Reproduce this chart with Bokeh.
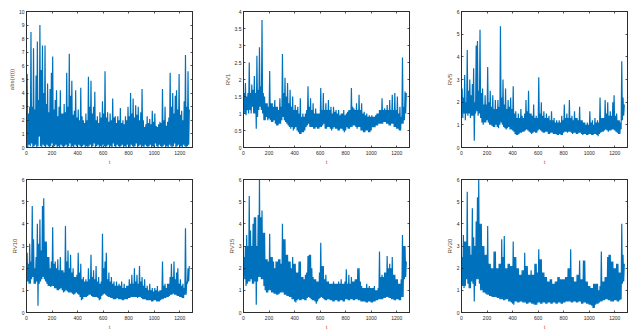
from bokeh.plotting import figure
from bokeh.models import Range1d, LinearAxis, FixedTicker
from bokeh.layouts import row, column
from bokeh.embed import file_html
from bokeh.resources import INLINE

# Each series is read off the picture as a min/max envelope per 10-step bin of t
# (the original series are ~1270 daily points, far denser than a pixel).
T_LO = list(range(0, 1280, 10))   # t at which the bin minimum is drawn
T_HI = list(range(5, 1285, 10))   # t at which the bin maximum is drawn

ABS_R_UP = [5.4, 2.5, 3.0, 8.5, 3.0, 7.3, 2.8, 5.3, 7.8, 3.5, 9.0, 5.7, 7.5, 4.0, 7.5, 3.2,
            4.7, 2.6, 4.3, 5.5, 6.7, 2.8, 3.5, 4.2, 2.3, 3.0, 4.2, 2.5, 2.5, 3.2, 2.6, 5.5,
            3.0, 6.9, 3.8, 4.9, 2.4, 2.7, 4.2, 2.2, 2.8, 2.0, 4.4, 2.3, 2.0, 1.8, 2.5, 2.0,
            5.2, 3.0, 4.9, 2.5, 3.0, 4.1, 2.0, 2.3, 1.8, 2.6, 2.2, 3.4, 2.5, 5.6, 2.2, 2.6,
            1.9, 2.5, 2.0, 3.6, 2.2, 2.3, 1.8, 2.3, 2.0, 2.9, 1.8, 2.0, 1.7, 2.3, 2.0, 3.0,
            2.3, 4.0, 2.5, 3.6, 2.2, 3.1, 2.4, 3.0, 2.0, 2.6, 4.3, 2.0, 1.5, 1.7, 2.3, 1.8,
            2.1, 1.7, 2.7, 1.9, 2.5, 1.6, 1.5, 1.7, 1.9, 1.8, 4.3, 2.0, 3.0, 1.6, 1.9, 2.2,
            5.5, 3.0, 4.0, 2.5, 3.8, 4.2, 2.8, 5.4, 2.4, 2.7, 2.0, 3.4, 6.8, 3.0, 5.6, 2.8]
ABS_R_LO = [0.1, 0.0, 0.2, 0.1, 0.3, 0.0, 0.1, 0.2, 0.0, 0.1, 0.8, 0.1, 0.0, 0.2, 0.1, 0.0,
            0.2, 0.1, 0.0, 0.1, 0.3, 0.0, 0.1, 0.2, 0.0, 0.1, 0.0, 0.2, 0.1, 0.0, 0.1, 0.2,
            0.0, 0.1, 0.3, 0.0, 0.1, 0.0, 0.2, 0.1, 0.0, 0.2, 0.1, 0.0, 0.1, 0.2, 0.0, 0.1,
            0.0, 0.1, 0.2, 0.0, 0.1, 0.3, 0.0, 0.1, 0.2, 0.0, 0.1, 0.0, 0.2, 0.1, 0.0, 0.1,
            0.2, 0.0, 0.1, 0.0, 0.3, 0.1, 0.0, 0.2, 0.1, 0.0, 0.1, 0.2, 0.0, 0.1, 0.0, 0.2,
            0.1, 0.0, 0.2, 0.1, 0.0, 0.1, 0.3, 0.0, 0.1, 0.2, 0.0, 0.1, 0.0, 0.2, 0.1, 0.0,
            0.1, 0.2, 0.0, 0.1, 0.0, 0.3, 0.1, 0.0, 0.2, 0.1, 0.0, 0.1, 0.2, 0.0, 0.1, 0.0,
            0.2, 0.1, 0.0, 0.1, 0.3, 0.0, 0.1, 0.2, 0.0, 0.1, 0.0, 0.2, 0.1, 0.0, 0.1, 0.2]

RV1_UP = [1.6, 1.9, 1.5, 1.6, 2.5, 1.6, 1.85, 1.7, 2.1, 1.6, 2.7, 1.7, 2.95, 1.8, 3.75, 1.6,
          1.5, 1.3, 1.3, 1.2, 2.25, 1.3, 1.3, 1.2, 1.4, 1.2, 1.2, 1.1, 1.45, 1.2, 2.75, 1.6,
          2.05, 1.5, 1.9, 1.3, 1.7, 1.2, 1.5, 1.1, 1.25, 1.1, 1.2, 1.0, 1.45, 0.9, 1.0, 0.9,
          1.0, 1.1, 1.8, 1.2, 1.45, 1.1, 1.3, 1.0, 1.15, 1.0, 1.0, 1.0, 1.75, 1.1, 1.6, 1.1,
          1.3, 1.1, 1.4, 1.1, 1.2, 1.0, 1.2, 1.05, 1.1, 1.0, 1.1, 0.95, 1.0, 1.0, 1.1, 0.95,
          1.0, 1.05, 1.1, 1.1, 1.75, 1.2, 1.15, 1.1, 1.3, 1.1, 1.55, 1.1, 1.3, 1.0, 1.05, 0.95,
          1.0, 0.9, 0.95, 0.9, 0.95, 0.9, 0.9, 0.95, 1.0, 1.0, 1.1, 1.1, 1.45, 1.1, 1.15, 1.1,
          1.25, 1.1, 1.4, 1.1, 1.55, 1.1, 1.6, 1.1, 1.5, 1.0, 1.2, 0.9, 2.65, 1.2, 1.65, 1.6]
RV1_LO = [1.1, 1.0, 0.95, 1.1, 1.0, 1.1, 1.0, 1.2, 1.0, 1.0, 0.55, 0.9, 1.1, 1.2, 1.1, 1.0,
          0.8, 0.8, 0.9, 0.8, 0.85, 0.8, 0.75, 0.75, 0.8, 0.7, 0.65, 0.65, 0.7, 0.7, 0.8, 0.9,
          0.8, 0.75, 0.7, 0.65, 0.6, 0.55, 0.6, 0.5, 0.55, 0.6, 0.5, 0.45, 0.4, 0.4, 0.45, 0.45,
          0.5, 0.6, 0.65, 0.7, 0.6, 0.6, 0.6, 0.55, 0.55, 0.6, 0.55, 0.55, 0.6, 0.6, 0.65, 0.7,
          0.55, 0.55, 0.6, 0.6, 0.55, 0.5, 0.55, 0.6, 0.55, 0.55, 0.5, 0.5, 0.55, 0.55, 0.5, 0.45,
          0.5, 0.6, 0.55, 0.55, 0.6, 0.6, 0.65, 0.65, 0.6, 0.55, 0.6, 0.6, 0.5, 0.5, 0.45, 0.45,
          0.5, 0.5, 0.45, 0.45, 0.5, 0.6, 0.6, 0.6, 0.65, 0.65, 0.7, 0.7, 0.7, 0.7, 0.75, 0.75,
          0.7, 0.7, 0.65, 0.65, 0.7, 0.7, 0.6, 0.6, 0.55, 0.55, 0.5, 0.5, 0.7, 0.7, 0.8, 1.0]

RV5_UP = [2.6, 2.2, 3.2, 2.0, 4.3, 2.5, 3.0, 2.3, 2.8, 3.5, 2.0, 4.5, 4.7, 2.5, 5.2, 2.4,
          2.6, 1.9, 2.3, 1.9, 3.55, 2.0, 2.5, 1.8, 2.3, 1.7, 2.1, 1.7, 2.1, 1.8, 5.35, 2.2,
          3.0, 1.9, 2.6, 1.7, 2.1, 1.8, 2.2, 1.7, 2.7, 1.5, 1.6, 1.3, 1.5, 1.3, 1.7, 1.4,
          1.3, 1.5, 2.1, 1.6, 2.5, 1.5, 1.5, 1.4, 1.9, 1.3, 1.4, 1.3, 3.1, 1.5, 2.0, 1.4,
          1.6, 1.3, 1.5, 1.3, 1.4, 1.2, 1.6, 1.2, 1.3, 1.1, 1.2, 1.1, 1.2, 1.1, 1.4, 1.2,
          1.9, 1.3, 1.5, 1.3, 2.1, 1.3, 1.4, 1.2, 1.6, 1.3, 1.3, 1.2, 1.8, 1.2, 1.2, 1.1,
          1.1, 1.0, 1.1, 1.0, 1.6, 1.1, 1.2, 1.0, 1.3, 1.1, 1.2, 1.1, 2.2, 1.3, 1.3, 1.3,
          2.1, 1.5, 2.0, 1.4, 1.6, 1.4, 2.0, 2.3, 1.4, 1.5, 1.2, 1.2, 1.1, 3.8, 2.2, 1.9]
RV5_LO = [1.6, 1.3, 1.5, 1.2, 1.5, 1.4, 1.5, 1.3, 1.4, 1.4, 0.3, 1.5, 1.6, 1.4, 1.5, 1.3,
          1.1, 1.0, 1.1, 1.1, 1.2, 1.1, 1.0, 1.0, 0.95, 0.9, 0.9, 1.0, 0.9, 0.85, 1.0, 1.1,
          1.0, 0.9, 0.85, 0.8, 0.85, 0.9, 0.8, 0.8, 0.75, 0.7, 0.6, 0.55, 0.55, 0.6, 0.65, 0.65,
          0.7, 0.7, 0.75, 0.8, 0.75, 0.7, 0.65, 0.6, 0.65, 0.7, 0.65, 0.65, 0.75, 0.8, 0.75, 0.7,
          0.65, 0.65, 0.7, 0.7, 0.6, 0.6, 0.65, 0.65, 0.6, 0.6, 0.6, 0.55, 0.55, 0.6, 0.55, 0.55,
          0.65, 0.7, 0.7, 0.65, 0.7, 0.7, 0.65, 0.6, 0.65, 0.65, 0.6, 0.6, 0.65, 0.65, 0.6, 0.55,
          0.6, 0.6, 0.55, 0.55, 0.6, 0.6, 0.55, 0.55, 0.6, 0.6, 0.55, 0.5, 0.6, 0.65, 0.7, 0.7,
          0.75, 0.8, 0.75, 0.7, 0.75, 0.75, 0.8, 0.8, 0.75, 0.7, 0.65, 0.6, 0.6, 0.8, 1.2, 1.4]

RV10_UP = [2.7, 2.2, 3.1, 2.3, 4.8, 3.3, 2.0, 2.5, 4.0, 3.1, 4.2, 2.8, 4.8, 5.15, 3.2, 3.2,
           2.5, 2.5, 2.0, 2.3, 3.85, 2.2, 2.3, 2.0, 2.4, 1.9, 2.5, 1.9, 1.9, 1.8, 3.9, 2.3,
           2.8, 2.0, 2.6, 1.8, 2.0, 1.6, 1.6, 1.7, 2.7, 1.8, 2.2, 1.5, 1.6, 1.4, 1.5, 1.4,
           2.0, 1.5, 2.6, 1.6, 1.9, 1.5, 2.1, 1.4, 1.6, 1.3, 1.4, 3.55, 2.0, 2.3, 2.7, 1.5,
           1.8, 1.4, 1.6, 1.3, 1.4, 1.2, 1.4, 1.2, 1.3, 1.2, 1.4, 1.1, 1.3, 1.1, 1.2, 1.2,
           1.5, 1.3, 1.7, 1.3, 2.0, 1.4, 1.7, 1.3, 2.1, 1.4, 1.6, 1.2, 1.5, 1.1, 1.2, 1.0,
           1.3, 1.0, 1.1, 0.95, 1.1, 1.0, 1.2, 0.95, 1.0, 1.0, 2.3, 1.2, 1.3, 1.1, 1.3, 1.3,
           1.6, 2.2, 1.6, 2.3, 1.5, 1.8, 2.0, 1.3, 1.5, 1.2, 1.3, 1.1, 3.8, 1.4, 2.0, 2.1]
RV10_LO = [1.4, 1.4, 1.3, 1.3, 1.5, 1.6, 1.3, 1.3, 1.4, 0.3, 1.3, 1.4, 1.5, 1.6, 1.5, 1.4,
           1.3, 1.2, 1.2, 1.15, 1.2, 1.2, 1.1, 1.1, 1.0, 1.0, 1.05, 1.1, 1.0, 0.9, 0.95, 1.0,
           0.95, 0.9, 0.9, 0.9, 0.85, 0.8, 0.85, 0.9, 0.85, 0.8, 0.7, 0.55, 0.6, 0.7, 0.7, 0.7,
           0.75, 0.8, 0.8, 0.75, 0.7, 0.7, 0.7, 0.7, 0.65, 0.55, 0.6, 0.75, 0.8, 0.85, 0.8, 0.75,
           0.7, 0.7, 0.65, 0.65, 0.6, 0.6, 0.6, 0.65, 0.6, 0.6, 0.6, 0.55, 0.55, 0.6, 0.6, 0.6,
           0.65, 0.65, 0.7, 0.7, 0.7, 0.7, 0.7, 0.65, 0.7, 0.7, 0.65, 0.6, 0.6, 0.6, 0.55, 0.55,
           0.55, 0.55, 0.5, 0.5, 0.55, 0.55, 0.5, 0.5, 0.5, 0.55, 0.6, 0.6, 0.65, 0.65, 0.7, 0.7,
           0.75, 0.8, 0.8, 0.85, 0.8, 0.8, 0.75, 0.75, 0.7, 0.7, 0.65, 0.65, 0.8, 0.8, 1.3, 1.4]

RV15_UP = [2.5, 3.0, 3.5, 3.0, 5.25, 3.7, 3.0, 4.0, 4.3, 4.3, 3.0, 4.4, 6.0, 4.3, 4.6, 3.6,
           3.6, 2.4, 2.4, 2.3, 3.55, 2.5, 2.5, 2.3, 2.0, 2.3, 2.3, 2.4, 2.4, 2.2, 4.0, 3.3,
           3.3, 2.6, 2.6, 2.3, 2.3, 2.0, 2.5, 2.2, 2.2, 1.8, 1.8, 2.3, 2.3, 1.6, 1.6, 1.5,
           1.7, 1.8, 2.55, 2.6, 2.6, 2.0, 1.6, 1.5, 1.5, 1.4, 1.4, 1.8, 3.15, 2.1, 2.1, 1.5,
           1.7, 1.4, 1.4, 1.3, 1.3, 1.3, 1.4, 1.3, 1.3, 1.3, 1.4, 1.3, 1.5, 1.3, 1.3, 1.4,
           1.95, 1.3, 1.7, 1.3, 1.6, 1.4, 1.4, 1.5, 1.5, 2.0, 2.0, 1.4, 1.2, 1.1, 1.1, 1.1,
           1.3, 1.1, 1.2, 1.1, 1.1, 1.1, 1.2, 1.0, 1.0, 1.1, 2.75, 1.6, 1.7, 1.6, 1.8, 1.8,
           2.55, 2.0, 2.2, 2.0, 2.5, 1.7, 1.7, 1.5, 1.5, 1.3, 1.3, 1.5, 3.5, 3.0, 3.0, 2.3]
RV15_LO = [1.7, 1.5, 1.2, 1.3, 1.4, 1.4, 1.5, 1.3, 1.3, 1.4, 0.35, 1.4, 1.6, 1.6, 1.5, 1.5,
           1.2, 1.0, 0.9, 0.9, 1.0, 1.0, 0.9, 0.9, 0.85, 0.85, 0.8, 0.8, 0.85, 0.9, 0.9, 0.9,
           0.8, 0.8, 0.75, 0.75, 0.7, 0.7, 0.6, 0.6, 0.5, 0.45, 0.55, 0.6, 0.55, 0.55, 0.6, 0.6,
           0.55, 0.55, 0.65, 0.7, 0.65, 0.6, 0.55, 0.55, 0.5, 0.4, 0.5, 0.6, 0.65, 0.7, 0.65, 0.6,
           0.55, 0.55, 0.6, 0.6, 0.55, 0.55, 0.5, 0.5, 0.55, 0.55, 0.5, 0.5, 0.55, 0.55, 0.5, 0.5,
           0.6, 0.6, 0.55, 0.55, 0.6, 0.6, 0.55, 0.55, 0.6, 0.6, 0.55, 0.55, 0.5, 0.5, 0.5, 0.5,
           0.45, 0.45, 0.5, 0.5, 0.45, 0.45, 0.5, 0.5, 0.55, 0.55, 0.6, 0.6, 0.6, 0.6, 0.65, 0.65,
           0.7, 0.7, 0.65, 0.65, 0.6, 0.6, 0.55, 0.55, 0.6, 0.6, 0.55, 0.55, 0.7, 0.7, 1.5, 1.6]

RV20_UP = [2.5, 3.5, 3.2, 3.2, 5.45, 3.0, 3.0, 2.6, 4.7, 3.4, 3.0, 4.1, 5.2, 6.0, 4.0, 4.0,
           3.0, 3.0, 2.6, 2.6, 3.9, 2.2, 2.2, 2.0, 2.0, 2.75, 2.75, 2.0, 2.0, 2.2, 2.2, 3.3,
           2.5, 3.45, 2.0, 2.0, 2.2, 2.2, 2.1, 2.1, 3.2, 2.5, 2.5, 2.0, 2.0, 1.7, 1.7, 1.9,
           1.9, 2.7, 2.1, 2.1, 1.7, 1.7, 1.9, 1.7, 1.7, 2.2, 2.2, 1.8, 2.85, 2.4, 2.4, 1.8,
           1.8, 1.6, 1.6, 1.4, 1.4, 1.5, 1.5, 1.3, 1.3, 1.4, 1.4, 1.6, 1.6, 1.5, 1.5, 1.5,
           1.5, 1.6, 1.6, 2.0, 2.0, 2.85, 1.6, 1.6, 1.4, 1.4, 1.7, 1.7, 2.35, 1.5, 1.5, 2.35,
           2.35, 1.4, 1.4, 1.2, 1.2, 1.1, 1.1, 1.3, 1.3, 1.3, 1.3, 1.0, 1.2, 2.75, 1.4, 1.4,
           1.6, 1.6, 2.5, 2.6, 2.6, 2.3, 2.3, 2.0, 2.0, 2.2, 2.2, 1.8, 1.8, 4.0, 2.6, 2.2]
RV20_LO = [1.2, 1.2, 1.1, 1.2, 1.5, 1.3, 1.1, 1.1, 1.4, 1.3, 0.5, 1.2, 1.5, 1.5, 1.3, 1.0,
           1.0, 0.9, 0.9, 0.85, 0.8, 0.8, 0.75, 0.75, 0.7, 0.7, 0.7, 0.7, 0.65, 0.65, 0.6, 0.6,
           0.6, 0.55, 0.55, 0.6, 0.6, 0.5, 0.5, 0.45, 0.4, 0.35, 0.5, 0.5, 0.45, 0.45, 0.5, 0.5,
           0.45, 0.45, 0.45, 0.4, 0.4, 0.45, 0.45, 0.4, 0.4, 0.35, 0.35, 0.35, 0.45, 0.45, 0.4, 0.4,
           0.45, 0.45, 0.4, 0.4, 0.45, 0.45, 0.4, 0.4, 0.45, 0.45, 0.4, 0.4, 0.45, 0.45, 0.4, 0.4,
           0.45, 0.45, 0.5, 0.5, 0.5, 0.5, 0.45, 0.45, 0.5, 0.5, 0.45, 0.45, 0.5, 0.5, 0.4, 0.4,
           0.45, 0.45, 0.4, 0.4, 0.35, 0.35, 0.3, 0.2, 0.2, 0.35, 0.4, 0.4, 0.45, 0.5, 0.5, 0.55,
           0.55, 0.6, 0.6, 0.55, 0.55, 0.5, 0.5, 0.5, 0.55, 0.55, 0.5, 0.5, 0.55, 0.6, 1.3, 1.4]

X_TICKS = [0, 200, 400, 600, 800, 1000, 1200]
X_MAX = 1300
X_LABEL = "t"

Y_LABELS = ["abs(r(t))", "RV1", "RV5", "RV10", "RV15", "RV20"]
Y_MAX = [10, 4, 6, 6, 6, 6]
Y_TICKS = [
    [0, 1, 2, 3, 4, 5, 6, 7, 8, 9, 10],
    [0, 0.5, 1, 1.5, 2, 2.5, 3, 3.5, 4],
    [0, 1, 2, 3, 4, 5, 6],
    [0, 1, 2, 3, 4, 5, 6],
    [0, 1, 2, 3, 4, 5, 6],
    [0, 1, 2, 3, 4, 5, 6],
]
Y_TICK_LABELS = [
    ["0", "1", "2", "3", "4", "5", "6", "7", "8", "9", "10"],
    ["0", "0.5", "1", "1.5", "2", "2.5", "3", "3.5", "4"],
    ["0", "1", "2", "3", "4", "5", "6"],
    ["0", "1", "2", "3", "4", "5", "6"],
    ["0", "1", "2", "3", "4", "5", "6"],
    ["0", "1", "2", "3", "4", "5", "6"],
]
SERIES = [(ABS_R_LO, ABS_R_UP), (RV1_LO, RV1_UP), (RV5_LO, RV5_UP),
          (RV10_LO, RV10_UP), (RV15_LO, RV15_UP), (RV20_LO, RV20_UP)]

LINE_COLOR = "#0072BD"
AX_COLOR = "#262626"
TICK_TXT = "#2a2622"
YLAB_COLOR = "#6b4a2a"
XLAB_COLOR = "#c8601e"
FONT = "Liberation Sans"


def style_axis(ax, ticks, labels=None, hidden=False, standoff=2):
    ax.ticker = FixedTicker(ticks=ticks)
    ax.major_tick_in = 2
    ax.major_tick_out = 0
    ax.minor_tick_in = 0
    ax.minor_tick_out = 0
    ax.axis_line_color = AX_COLOR
    ax.axis_line_width = 0.8
    ax.major_tick_line_color = AX_COLOR
    ax.major_tick_line_width = 0.8
    ax.major_label_text_font = FONT
    if hidden:
        ax.major_label_text_font_size = "0px"
        ax.major_label_standoff = 0
        ax.major_label_text_alpha = 0
    else:
        ax.major_label_text_font_size = "5px"
        ax.major_label_text_color = TICK_TXT
        ax.major_label_standoff = standoff
        if labels is not None:
            ax.major_label_overrides = {t: l for t, l in zip(ticks, labels)}


def make_panel(i, width, height, top, bottom, right):
    p = figure(width=width, height=height,
               x_range=Range1d(0, X_MAX), y_range=Range1d(0, Y_MAX[i]),
               output_backend="svg", toolbar_location=None,
               min_border_left=26, min_border_right=right,
               min_border_top=top, min_border_bottom=bottom)
    p.xgrid.visible = False
    p.ygrid.visible = False
    p.outline_line_color = AX_COLOR
    p.outline_line_width = 0.8
    p.background_fill_color = "white"
    p.border_fill_color = "white"

    lo, up = SERIES[i]
    n = min(len(lo), len(up), len(T_LO))
    xs, ys = [], []
    for k in range(n):
        xs += [T_LO[k], T_HI[k]]
        ys += [lo[k], up[k]]
    p.line(xs, ys, line_color=LINE_COLOR, line_width=1.2, line_join="bevel")

    style_axis(p.xaxis[0], X_TICKS, standoff=3)
    style_axis(p.yaxis[0], Y_TICKS[i], Y_TICK_LABELS[i], standoff=2)
    p.xaxis[0].axis_label = X_LABEL
    p.xaxis[0].axis_label_text_color = XLAB_COLOR
    p.xaxis[0].axis_label_text_font = FONT
    p.xaxis[0].axis_label_text_font_size = "6px"
    p.xaxis[0].axis_label_text_font_style = "normal"
    p.xaxis[0].axis_label_standoff = 1
    p.yaxis[0].axis_label = Y_LABELS[i]
    p.yaxis[0].axis_label_text_color = YLAB_COLOR
    p.yaxis[0].axis_label_text_font = FONT
    p.yaxis[0].axis_label_text_font_size = "6px"
    p.yaxis[0].axis_label_text_font_style = "normal"
    p.yaxis[0].axis_label_standoff = 1

    top_ax = LinearAxis()
    style_axis(top_ax, X_TICKS, hidden=True)
    p.add_layout(top_ax, "above")
    right_ax = LinearAxis()
    style_axis(right_ax, Y_TICKS[i], hidden=True)
    p.add_layout(right_ax, "right")
    return p


W_COL = [217, 218, 201]
RIGHT = [25, 26, 9]
panels_row1 = [make_panel(k, W_COL[k], 168, 11, 21, RIGHT[k]) for k in range(3)]
panels_row2 = [make_panel(k + 3, W_COL[k], 164, 11, 19, RIGHT[k]) for k in range(3)]

layout = column(row(*panels_row1), row(*panels_row2))

with open("out.html", "w") as f:
    f.write(file_html(layout, INLINE))
